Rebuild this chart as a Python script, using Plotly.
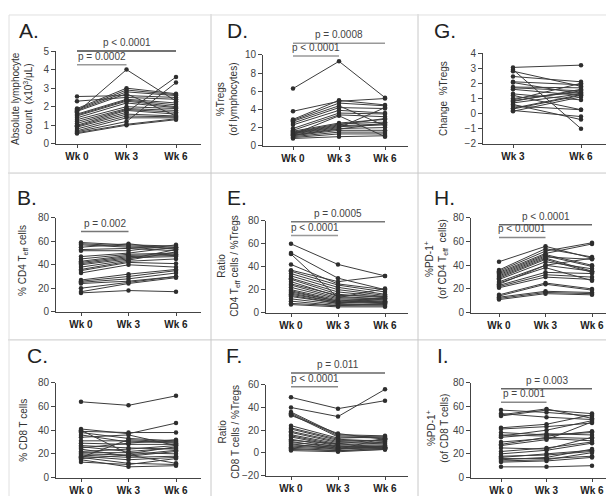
import plotly.graph_objects as go

W, H = 614, 496
weeks3 = ["Wk 0", "Wk 3", "Wk 6"]
weeks2 = ["Wk 3", "Wk 6"]

# ---- data (per subject, values at each week) ----
A_w0 = [2.55, 2.3, 1.9, 1.85, 1.8, 1.7, 1.6, 1.55, 1.5, 1.4, 1.3, 1.2, 1.1, 1.0, 0.95, 0.9, 0.8, 0.7, 0.65, 0.6, 0.55, 1.75]
A_w3 = [2.6, 2.5, 3.0, 2.9, 2.8, 4.0, 2.4, 2.35, 2.3, 2.2, 2.0, 1.9, 1.85, 1.8, 1.7, 1.6, 1.5, 1.4, 1.2, 1.05, 1.0, 2.7]
A_w6 = [2.5, 2.4, 2.7, 2.65, 2.6, 2.3, 2.2, 2.1, 2.0, 1.95, 1.9, 1.8, 1.7, 1.6, 3.6, 1.5, 1.45, 1.4, 3.3, 1.35, 1.3, 1.5]

D_w0 = [6.3, 3.8, 2.9, 2.8, 2.7, 2.5, 2.3, 1.9, 1.7, 1.6, 1.5, 1.4, 1.35, 1.3, 1.2, 1.1, 1.0, 0.9, 0.8, 1.25, 1.45, 1.15]
D_w3 = [9.3, 4.9, 5.0, 4.7, 4.4, 4.2, 3.9, 3.6, 3.4, 2.5, 2.4, 2.2, 2.1, 2.0, 1.9, 1.7, 1.5, 1.3, 1.0, 3.3, 2.3, 1.8]
D_w6 = [5.3, 5.2, 4.5, 4.4, 2.2, 4.1, 3.6, 3.5, 3.2, 2.9, 2.6, 2.4, 2.3, 4.2, 2.0, 1.7, 1.5, 1.3, 1.1, 1.0, 3.0, 2.5]

G_w3 = [3.05, 2.9, 2.8, 2.45, 2.1, 2.05, 1.7, 1.6, 1.3, 1.2, 1.0, 0.9, 0.8, 0.7, 0.6, 0.5, 0.35, 0.3, 0.2, 0.15, 1.75, 0.85]
G_w6 = [3.2, -1.0, 1.8, 2.1, 1.9, 1.3, 1.5, 1.2, 0.9, 0.25, 1.4, 2.0, 1.6, 1.3, -0.4, 0.25, 1.25, 1.2, -0.2, 1.1, 1.7, 1.5]

B_w0 = [59, 58, 57, 55, 53, 52, 47, 45, 43, 42, 41, 40, 38, 36, 35, 33, 27, 26, 25, 24, 20, 17, 16]
B_w3 = [57, 56, 55, 58, 54, 52, 50, 49, 48, 47, 46, 45, 44, 43, 42, 40, 32, 30, 28, 26, 25, 24, 18]
B_w6 = [56, 55, 54, 53, 52, 57, 55, 50, 49, 48, 47, 53, 51, 45, 41, 38, 36, 35, 33, 30, 30, 29, 17]

E_w0 = [60, 52, 51, 42, 37, 36, 34, 32, 30, 29, 27, 25, 24, 22, 20, 19, 18, 17, 16, 15, 14, 12, 10, 8, 7]
E_w3 = [42, 30, 13, 25, 27, 24, 22, 20, 18, 16, 14, 15, 13, 12, 11, 10, 10, 9, 9, 8, 8, 7, 6, 6, 5]
E_w6 = [32, 20, 21, 20, 32, 18, 16, 15, 14, 13, 12, 14, 12, 11, 10, 13, 9, 10, 8, 12, 9, 7, 8, 6, 5]

H_w0 = [43, 36, 35, 34, 33, 32, 31, 30, 29, 28, 26, 25, 23, 22, 21, 15, 14, 13, 12, 11, 24]
H_w3 = [56, 54, 52, 50, 49, 48, 47, 46, 45, 43, 40, 38, 34, 32, 30, 25, 24, 18, 17, 16, 40]
H_w6 = [46, 47, 59, 58, 40, 39, 45, 35, 34, 37, 46, 27, 33, 30, 28, 20, 19, 17, 16, 15, 35]

C_w0 = [64, 41, 40, 39, 38, 36, 34, 31, 29, 27, 26, 25, 24, 22, 21, 20, 19, 18, 17, 17, 16, 15, 13]
C_w3 = [61, 37, 20, 38, 33, 30, 36, 31, 28, 25, 22, 29, 18, 24, 21, 19, 17, 15, 12, 32, 19, 9, 11]
C_w6 = [69, 46, 26, 38, 31, 30, 27, 29, 28, 24, 25, 32, 22, 27, 20, 23, 18, 17, 11, 30, 12, 10, 16]

F_w0 = [49, 40, 36, 35, 34, 33, 24, 22, 21, 19, 18, 16, 15, 14, 12, 11, 10, 9, 8, 7, 6, 5, 4, 3, 2]
F_w3 = [39, 32, 16, 15, 14, 17, 13, 12, 11, 10, 9, 8, 7, 6, 5, 8, 4, 6, 3, 5, 4, 3, 2, 2, 1]
F_w6 = [46, 56, 15, 14, 13, 12, 14, 10, 11, 9, 8, 12, 7, 6, 6, 5, 5, 4, 6, 5, 4, 13, 3, 4, 3]

I_w0 = [57, 54, 53, 52, 42, 41, 38, 36, 35, 34, 30, 28, 27, 25, 22, 20, 18, 17, 16, 15, 14, 13, 9]
I_w3 = [55, 51, 58, 57, 45, 43, 36, 35, 40, 37, 33, 34, 32, 24, 25, 23, 19, 20, 16, 17, 15, 14, 9]
I_w6 = [52, 49, 50, 54, 53, 46, 38, 39, 48, 36, 31, 33, 47, 34, 30, 29, 22, 23, 18, 24, 21, 17, 10]

# ---- panel layout (pixel geometry) ----
panels = [
    dict(k="A", series=[A_w0, A_w3, A_w6], cats=weeks3, xpx=(48, 193), cpx=(69, 168), ypx=(133, 38), yr=(0, 5), dt=1,
         letter=(9, 17), title="Absolute lymphocyte<br>count  (x10<sup>3</sup>/μL)", tpos=(14, 87)),
    dict(k="D", series=[D_w0, D_w3, D_w6], cats=weeks3, xpx=(255, 400), cpx=(285, 377), ypx=(135, 42), yr=(0, 10), dt=2,
         letter=(217, 17), title="%Tregs<br>(of lymphocytes)", tpos=(219, 88)),
    dict(k="G", series=[G_w3, G_w6], cats=weeks2, xpx=(475, 608), cpx=(505, 573), ypx=(133, 40), yr=(-2, 4), dt=1,
         letter=(424, 17), title="Change  %Tregs", tpos=(436, 87)),
    dict(k="B", series=[B_w0, B_w3, B_w6], cats=weeks3, xpx=(48, 193), cpx=(73, 168), ypx=(305, 209), yr=(0, 80), dt=20,
         letter=(7, 188), title="% CD4 T<sub>eff</sub> cells", tpos=(15, 253)),
    dict(k="E", series=[E_w0, E_w3, E_w6], cats=weeks3, xpx=(258, 400), cpx=(283, 377), ypx=(306, 212), yr=(0, 80), dt=20,
         letter=(217, 188), title="Ratio<br>CD4 T<sub>eff</sub> cells / %Tregs", tpos=(221, 258)),
    dict(k="H", series=[H_w0, H_w3, H_w6], cats=weeks3, xpx=(463, 607), cpx=(491, 584), ypx=(306, 209), yr=(0, 80), dt=20,
         letter=(424, 188), title="%PD-1<sup>+</sup><br>(of CD4 T<sub>eff</sub>  cells)", tpos=(428, 251)),
    dict(k="C", series=[C_w0, C_w3, C_w6], cats=weeks3, xpx=(48, 193), cpx=(73, 168), ypx=(475, 378), yr=(0, 80), dt=20,
         letter=(17, 350), title="% CD8 T cells", tpos=(16, 427)),
    dict(k="F", series=[F_w0, F_w3, F_w6], cats=weeks3, xpx=(258, 400), cpx=(283, 377), ypx=(473, 380), yr=(-20, 60), dt=20,
         letter=(216, 350), title="Ratio<br>CD8 T cells / %Tregs", tpos=(221, 428)),
    dict(k="I", series=[I_w0, I_w3, I_w6], cats=weeks3, xpx=(463, 605), cpx=(493, 584), ypx=(475, 378), yr=(0, 80), dt=20,
         letter=(427, 350), title="%PD-1<sup>+</sup><br>(of CD8 T cells)", tpos=(430, 425)),
]

# brackets: (panel, cat_from, cat_to, y pixel, label, colour)
brackets = [
    ("A", 0, 2, 38, "p < 0.0001", "#444"),
    ("A", 0, 1, 52, "p = 0.0002", "#999"),
    ("D", 0, 2, 30, "p = 0.0008", "#999"),
    ("D", 0, 1, 43, "p < 0.0001", "#999"),
    ("B", 0, 1, 223, "p = 0.002", "#777"),
    ("E", 0, 2, 213, "p = 0.0005", "#777"),
    ("E", 0, 1, 227, "p < 0.0001", "#999"),
    ("H", 0, 2, 216, "p < 0.0001", "#666"),
    ("H", 0, 1, 229, "p < 0.0001", "#888"),
    ("F", 0, 2, 368, "p = 0.011", "#666"),
    ("F", 0, 1, 382, "p < 0.0001", "#888"),
    ("I", 0, 2, 384, "p = 0.003", "#666"),
    ("I", 0, 1, 398, "p = 0.001", "#888"),
]

FONT = "Liberation Sans, Arial, sans-serif"
px = lambda x: x / W
py = lambda y: 1 - y / H

fig = go.Figure()
shapes, annotations = [], []
xinfo = {}

for n, p in enumerate(panels, start=1):
    xa = "x" if n == 1 else f"x{n}"
    ya = "y" if n == 1 else f"y{n}"
    ncat = len(p["cats"])
    c0, c2 = p["cpx"]
    s = (c2 - c0) / (ncat - 1)
    r0 = -(c0 - p["xpx"][0]) / s
    r1 = (ncat - 1) + (p["xpx"][1] - c2) / s
    xinfo[p["k"]] = (p["xpx"], r0, r1)
    nsub = len(p["series"][0])
    for j in range(nsub):
        fig.add_trace(go.Scatter(
            x=p["cats"], y=[ser[j] for ser in p["series"]],
            mode="lines+markers", xaxis=xa, yaxis=ya, showlegend=False,
            line=dict(color="#3c3c3c", width=1),
            marker=dict(color="#2e2e2e", size=4.5), cliponaxis=False,
            hoverinfo="skip"))
    xd = [px(p["xpx"][0]), px(p["xpx"][1])]
    yd = [py(p["ypx"][0]), py(p["ypx"][1])]
    fig.layout[("xaxis" if n == 1 else f"xaxis{n}")] = dict(
        domain=xd, range=[r0, r1], type="category", anchor=ya,
        showline=True, linecolor="#444", linewidth=1, ticks="outside", ticklen=3,
        tickcolor="#444", showgrid=False, zeroline=False, fixedrange=True,
        tickfont=dict(family=FONT, size=10, color="#222", weight="bold"))
    fig.layout[("yaxis" if n == 1 else f"yaxis{n}")] = dict(
        domain=yd, range=list(p["yr"]), dtick=p["dt"], anchor=xa,
        showline=True, linecolor="#444", linewidth=1, ticks="outside", ticklen=4,
        tickcolor="#444", showgrid=False, zeroline=False, fixedrange=True,
        tickfont=dict(family=FONT, size=10, color="#444"))
    annotations.append(dict(text=p["k"] + ".", x=px(p["letter"][0]), y=py(p["letter"][1]),
                            xref="paper", yref="paper", xanchor="left", yanchor="middle",
                            showarrow=False, font=dict(family=FONT, size=21, color="#222")))
    annotations.append(dict(text=p["title"], x=px(p["tpos"][0]), y=py(p["tpos"][1]),
                            xref="paper", yref="paper", xanchor="center", yanchor="middle",
                            textangle=-90, showarrow=False,
                            font=dict(family=FONT, size=10, color="#333")))

for k, i0, i1, ypix, label, col in brackets:
    (xp0, xp1), r0, r1 = xinfo[k]
    tox = lambda i: px(xp0 + (i - r0) / (r1 - r0) * (xp1 - xp0))
    xa0, xa1 = tox(i0), tox(i1)
    shapes.append(dict(type="line", xref="paper", yref="paper", x0=xa0, x1=xa1,
                       y0=py(ypix), y1=py(ypix), line=dict(color=col, width=1.5)))
    annotations.append(dict(text=label, x=(xa0 + xa1) / 2, y=py(ypix - 1), xref="paper", yref="paper",
                            xanchor="center", yanchor="bottom", showarrow=False,
                            font=dict(family=FONT, size=10, color="#444")))

# panel separators
sep = "#c8c8c8"
for xv in (203, 410):
    shapes.append(dict(type="line", xref="paper", yref="paper", x0=px(xv), x1=px(xv), y0=0, y1=1,
                       line=dict(color=sep, width=1)))
for yv in (163, 334):
    shapes.append(dict(type="line", xref="paper", yref="paper", x0=0, x1=1, y0=py(yv), y1=py(yv),
                       line=dict(color=sep, width=1)))
shapes.append(dict(type="rect", xref="paper", yref="paper", x0=px(1), x1=px(613), y0=py(495), y1=py(1),
                   line=dict(color="#e0e0e0", width=1)))

fig.update_layout(width=W, height=H, margin=dict(l=0, r=0, t=0, b=0),
                  paper_bgcolor="white", plot_bgcolor="white",
                  shapes=shapes, annotations=annotations, showlegend=False,
                  font=dict(family=FONT))
fig.write_html("out.html")
